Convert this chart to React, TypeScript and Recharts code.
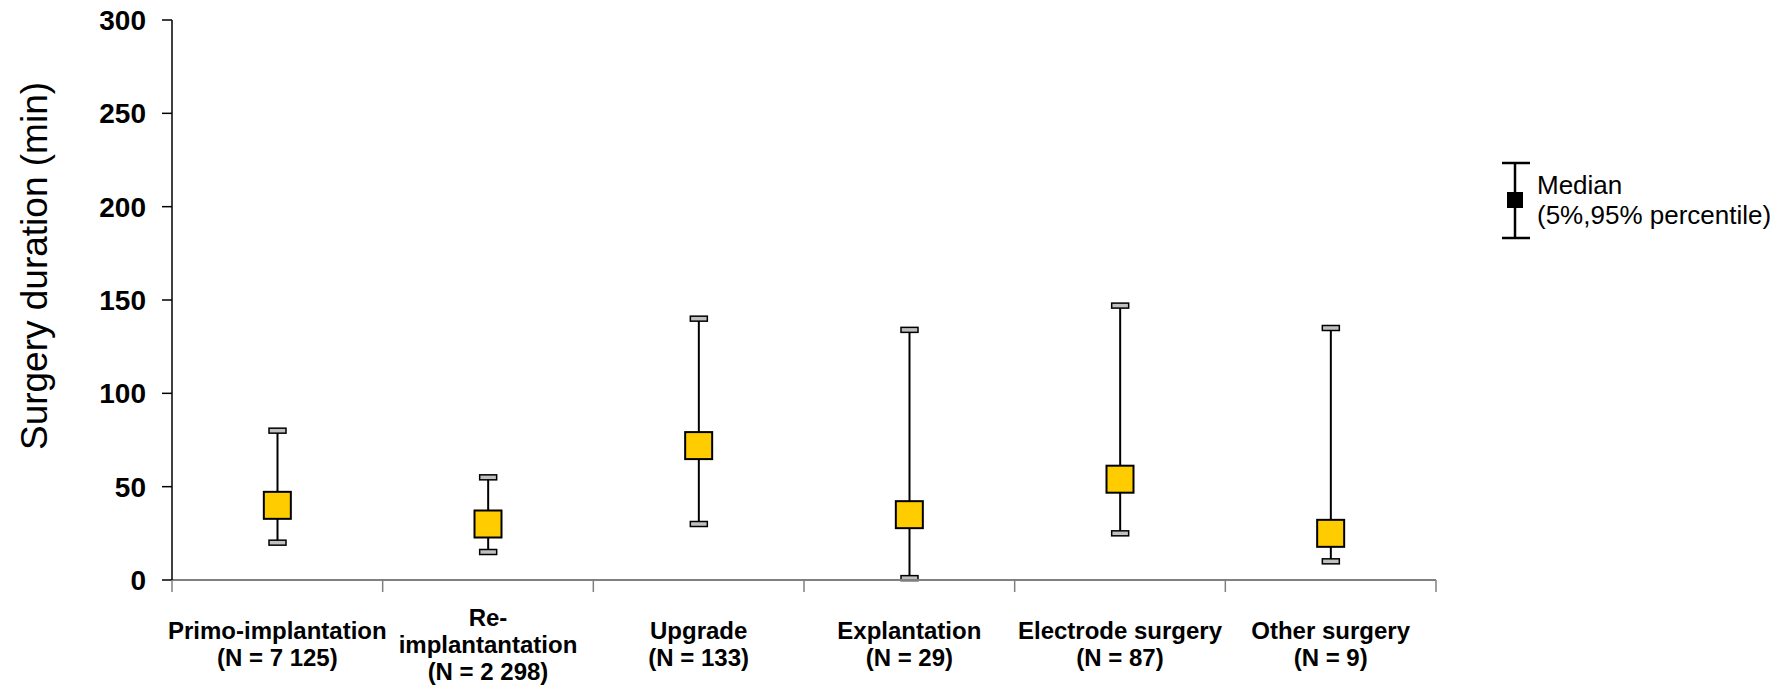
import React from "react";
import { ComposedChart, Bar, Line, XAxis, YAxis, Legend } from "recharts";

// category names (split into lines as in the original) and sample sizes
const categoryLines = [
  ["Primo-implantation"],
  ["Re-", "implantantation"],
  ["Upgrade"],
  ["Explantation"],
  ["Electrode surgery"],
  ["Other surgery"],
];
const counts = ["7 125", "2 298", "133", "29", "87", "9"];

// surgery duration (min)
const p5 = [20, 15, 30, 1, 25, 10];
const median = [40, 30, 72, 35, 54, 25];
const p95 = [80, 55, 140, 134, 147, 135];

const yTicks = [0, 50, 100, 150, 200, 250, 300];

const FONT = "'Liberation Sans', Arial, sans-serif";

const W = 1781;
const H = 690;
const MARGIN = { top: 20, right: 345, bottom: 0, left: 0 };
const Y_AXIS_W = 172;
const X_AXIS_H = 110;
const BAND = (W - MARGIN.left - MARGIN.right - Y_AXIS_W) / categoryLines.length;

const data = categoryLines.map((lines, i) => ({
  name: lines.join(" "),
  range: [p5[i], p95[i]],
  median: median[i],
}));

function Whisker(props: any) {
  const { x, y, width, height } = props;
  if (x == null || y == null) return null;
  const top = Math.min(y, y + height);
  const bottom = Math.max(y, y + height);
  const cx = x + width / 2;
  return (
    <g>
      <line x1={cx} x2={cx} y1={top} y2={bottom} stroke="#000" strokeWidth={2} />
      <rect x={x} y={top - 2.5} width={width} height={5} fill="#c0c0c0" stroke="#000" strokeWidth={1.5} />
      <rect x={x} y={bottom - 2.5} width={width} height={5} fill="#c0c0c0" stroke="#000" strokeWidth={1.5} />
    </g>
  );
}

const renderMedian = (p: any) => {
  const size = 27;
  return (
    <rect
      key={`median-${p.index}`}
      x={p.cx - size / 2}
      y={p.cy - size / 2}
      width={size}
      height={size}
      fill="#ffcc00"
      stroke="#000"
      strokeWidth={2}
    />
  );
};

// category label plus tick marks on the band edges
function CategoryTick(props: any) {
  const { x, y, payload } = props;
  const i = data.findIndex((d) => d.name === payload.value);
  const lines = [...categoryLines[i], `(N = ${counts[i]})`];
  const lineH = 27;
  const startY = y + 64 - ((lines.length - 1) * lineH) / 2;
  const half = BAND / 2;
  return (
    <g>
      <line x1={x - half} x2={x - half} y1={y} y2={y + 12} stroke="#808080" strokeWidth={1.5} />
      {i === data.length - 1 && (
        <line x1={x + half} x2={x + half} y1={y} y2={y + 12} stroke="#808080" strokeWidth={1.5} />
      )}
      <text textAnchor="middle" fontFamily={FONT} fontWeight="bold" fontSize={24} fill="#000">
        {lines.map((l, k) => (
          <tspan key={k} x={x} y={startY + k * lineH} dy="0.355em">
            {l}
          </tspan>
        ))}
      </text>
    </g>
  );
}

function YTitle(props: any) {
  const vb = props.viewBox || { x: 0, y: MARGIN.top };
  const x = vb.x + 47;
  const y = vb.y + 246;
  return (
    <text
      x={x}
      y={y}
      transform={`rotate(-90, ${x}, ${y})`}
      textAnchor="middle"
      fontFamily={FONT}
      fontSize={37}
      fill="#000"
    >
      Surgery duration (min)
    </text>
  );
}

function LegendBox() {
  return (
    <svg width={281} height={100} style={{ display: "block", overflow: "visible" }}>
      <line x1={15} x2={15} y1={13} y2={88} stroke="#000" strokeWidth={2.5} />
      <line x1={2} x2={30} y1={13} y2={13} stroke="#000" strokeWidth={2.5} />
      <line x1={2} x2={30} y1={88} y2={88} stroke="#000" strokeWidth={2.5} />
      <rect x={7} y={42} width={16} height={16} fill="#000" />
      <text x={37} y={44} fontFamily={FONT} fontSize={26} fill="#000">
        Median
      </text>
      <text x={37} y={74} fontFamily={FONT} fontSize={26} fill="#000">
        (5%,95% percentile)
      </text>
    </svg>
  );
}

export default function App() {
  return (
    <div style={{ position: "absolute", left: 0, top: 0, background: "#fff" }}>
      <ComposedChart width={W} height={H} data={data} margin={MARGIN}>
        <XAxis
          dataKey="name"
          type="category"
          interval={0}
          height={X_AXIS_H}
          tickSize={0}
          tickMargin={0}
          tickLine={false}
          axisLine={{ stroke: "#808080", strokeWidth: 2 }}
          tick={<CategoryTick />}
        />
        <YAxis
          type="number"
          domain={[0, 300]}
          ticks={yTicks}
          width={Y_AXIS_W}
          tickSize={10}
          tickMargin={16}
          axisLine={{ stroke: "#000", strokeWidth: 1.5 }}
          tickLine={{ stroke: "#000", strokeWidth: 1.5 }}
          tick={{ fontSize: 28, fontWeight: "bold", fill: "#000", fontFamily: FONT }}
          label={<YTitle />}
        />
        <Legend
          layout="vertical"
          align="center"
          verticalAlign="middle"
          wrapperStyle={{ left: 1500, top: 150, width: 281, height: 100 }}
          content={() => <LegendBox />}
        />
        <Bar dataKey="range" barSize={17} shape={<Whisker />} isAnimationActive={false} />
        <Line
          dataKey="median"
          stroke="none"
          dot={renderMedian}
          activeDot={false}
          legendType="none"
          isAnimationActive={false}
        />
      </ComposedChart>
    </div>
  );
}
